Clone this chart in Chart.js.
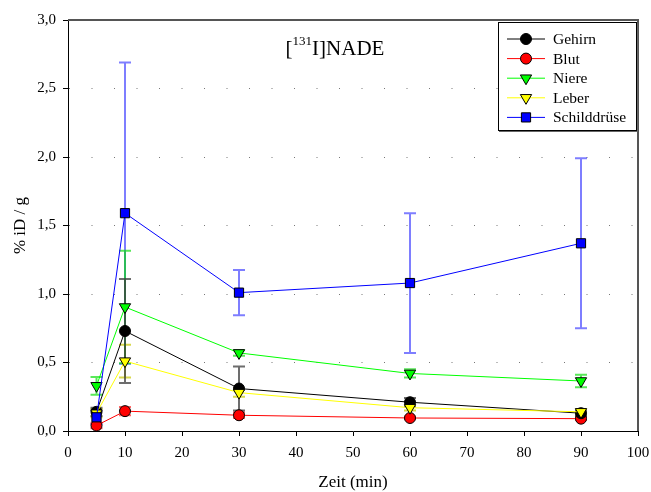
<!DOCTYPE html>
<html>
<head>
<meta charset="utf-8">
<script src="https://cdn.jsdelivr.net/npm/chart.js@4.4.0/dist/chart.umd.min.js"></script>
<style>
html, body { margin: 0; padding: 0; background: #fff; }
#wrap { width: 651px; height: 492px; }
</style>
</head>
<body>
<div id="wrap"><canvas id="chart"></canvas></div>
<script>
// Zeitpunkte (min)
const zeiten = [5, 10, 30, 60, 90];

// Mittelwerte % iD / g
const gehirn = [0.14, 0.73, 0.31, 0.21, 0.13];
const blut = [0.04, 0.145, 0.115, 0.095, 0.09];
const niere = [0.33, 0.905, 0.57, 0.42, 0.365];
const leber = [0.13, 0.51, 0.28, 0.17, 0.14];
const schilddruese = [0.10, 1.59, 1.01, 1.08, 1.37];

// Standardabweichungen
const gehirnFehler = [0.03, 0.38, 0.16, 0.03, 0.02];
const blutFehler = [0.02, 0.03, 0.02, 0.01, 0.01];
const niereFehler = [0.065, 0.41, 0.02, 0.03, 0.045];
const leberFehler = [0.03, 0.12, 0.03, 0.02, 0.02];
const schilddrueseFehler = [0.05, 1.10, 0.165, 0.51, 0.62];

const yTicks = [0, 0.5, 1.0, 1.5, 2.0, 2.5, 3.0];

const serif = '"Liberation Serif", "Times New Roman", serif';

function punkte(werte) {
    return werte.map((v, i) => ({ x: zeiten[i], y: v }));
}

const datensaetze = [
    { label: 'Gehirn', data: punkte(gehirn), fehler: gehirnFehler, borderColor: '#000000', backgroundColor: '#000000',
      fehlerFarbe: 'rgba(60,60,60,0.75)', pointStyle: 'circle', pointRadius: 5.5, pointRotation: 0, order: 3 },
    { label: 'Blut', data: punkte(blut), fehler: blutFehler, borderColor: '#ff0000', backgroundColor: '#ff0000',
      fehlerFarbe: 'rgba(255,0,0,0.6)', pointStyle: 'circle', pointRadius: 5.5, pointRotation: 0, order: 4 },
    { label: 'Niere', data: punkte(niere), fehler: niereFehler, borderColor: '#00ff00', backgroundColor: '#00ff00',
      fehlerFarbe: 'rgba(0,220,0,0.65)', pointStyle: 'triangle', pointRadius: 6.5, pointRotation: 180, order: 1 },
    { label: 'Leber', data: punkte(leber), fehler: leberFehler, borderColor: '#ffff00', backgroundColor: '#ffff00',
      fehlerFarbe: 'rgba(200,200,0,0.7)', pointStyle: 'triangle', pointRadius: 6.5, pointRotation: 180, order: 2 },
    { label: 'Schilddrüse', data: punkte(schilddruese), fehler: schilddrueseFehler, borderColor: '#0000ff', backgroundColor: '#0000ff',
      fehlerFarbe: 'rgba(40,40,255,0.6)', pointStyle: 'rect', pointRadius: 6.5, pointRotation: 0, order: 0 }
];

function marker(ctx, stil, x, y, r, farbe) {
    ctx.save();
    ctx.fillStyle = farbe;
    ctx.strokeStyle = '#000';
    ctx.lineWidth = 1;
    ctx.beginPath();
    if (stil === 'circle') {
        ctx.arc(x, y, r, 0, Math.PI * 2);
    } else if (stil === 'rect') {
        const s = r * Math.SQRT1_2;
        ctx.rect(x - s, y - s, 2 * s, 2 * s);
    } else {
        ctx.moveTo(x - r * 0.87, y - r * 0.5);
        ctx.lineTo(x + r * 0.87, y - r * 0.5);
        ctx.lineTo(x, y + r);
        ctx.closePath();
    }
    ctx.fill();
    ctx.stroke();
    ctx.restore();
}

const fehlerbalken = {
    id: 'fehlerbalken',
    beforeDatasetsDraw(chart) {
        const ctx = chart.ctx;
        const xs = chart.scales.x, ys = chart.scales.y;
        const reihen = chart.data.datasets.map((d, i) => i).reverse();
        ctx.save();
        reihen.forEach(i => {
            const d = chart.data.datasets[i];
            ctx.strokeStyle = d.fehlerFarbe;
            ctx.lineWidth = 2;
            d.data.forEach((p, j) => {
                const e = d.fehler[j];
                const px = xs.getPixelForValue(p.x);
                const oben = ys.getPixelForValue(p.y + e);
                const unten = ys.getPixelForValue(Math.max(p.y - e, -0.05));
                ctx.beginPath();
                ctx.moveTo(px, oben); ctx.lineTo(px, unten);
                ctx.moveTo(px - 6, oben); ctx.lineTo(px + 6, oben);
                if (p.y - e >= 0) { ctx.moveTo(px - 6, unten); ctx.lineTo(px + 6, unten); }
                ctx.stroke();
            });
        });
        ctx.restore();
    }
};

const beschriftung = {
    id: 'beschriftung',
    afterDraw(chart) {
        const ctx = chart.ctx;
        const a = chart.chartArea;
        ctx.save();

        // Rahmen oben und rechts
        ctx.strokeStyle = '#555';
        ctx.lineWidth = 2;
        ctx.beginPath();
        ctx.moveTo(a.left, a.top); ctx.lineTo(a.right, a.top); ctx.lineTo(a.right, a.bottom);
        ctx.stroke();

        // Titel [131I]NADE
        ctx.fillStyle = '#000';
        ctx.textBaseline = 'alphabetic';
        ctx.textAlign = 'left';
        ctx.font = '21px ' + serif;
        const w1 = ctx.measureText('[').width;
        const w3 = ctx.measureText('I]NADE').width;
        ctx.font = '13px ' + serif;
        const w2 = ctx.measureText('131').width;
        let x0 = 335 - (w1 + w2 + w3) / 2;
        ctx.font = '21px ' + serif;
        ctx.fillText('[', x0, 55);
        ctx.font = '13px ' + serif;
        ctx.fillText('131', x0 + w1, 45);
        ctx.font = '21px ' + serif;
        ctx.fillText('I]NADE', x0 + w1 + w2, 55);

        // Achsentitel
        ctx.font = '17px ' + serif;
        ctx.textAlign = 'center';
        ctx.fillText('Zeit (min)', (a.left + a.right) / 2, 487);
        ctx.save();
        ctx.translate(25, (a.top + a.bottom) / 2);
        ctx.rotate(-Math.PI / 2);
        ctx.fillText('% iD / g', 0, 0);
        ctx.restore();

        // Legende
        const lx = 498, ly = 22, lw = 138, lh = 108;
        ctx.fillStyle = '#fff';
        ctx.fillRect(lx, ly, lw, lh);
        ctx.strokeStyle = '#666';
        ctx.lineWidth = 2;
        ctx.beginPath();
        ctx.moveTo(lx + lw + 1, ly + 1); ctx.lineTo(lx + lw + 1, ly + lh + 1); ctx.lineTo(lx + 1, ly + lh + 1);
        ctx.stroke();
        ctx.strokeStyle = '#000';
        ctx.lineWidth = 1;
        ctx.strokeRect(lx + 0.5, ly + 0.5, lw, lh);
        ctx.font = '15.5px ' + serif;
        ctx.textAlign = 'left';
        ctx.textBaseline = 'middle';
        chart.data.datasets.forEach((d, i) => {
            const y = 39 + i * 19.6;
            ctx.strokeStyle = d.borderColor;
            ctx.lineWidth = 1;
            ctx.beginPath();
            ctx.moveTo(507, y); ctx.lineTo(545, y);
            ctx.stroke();
            marker(ctx, d.pointStyle, 526, y, d.pointRadius, d.backgroundColor);
            ctx.fillStyle = '#000';
            ctx.fillText(d.label, 553, y + 1);
        });
        ctx.restore();
    }
};

new Chart(document.getElementById('chart'), {
    type: 'line',
    data: { datasets: datensaetze },
    plugins: [fehlerbalken, beschriftung],
    options: {
        responsive: true,
        maintainAspectRatio: false,
        animation: false,
        layout: { padding: { top: 20, right: 13, left: 0, bottom: 0 } },
        elements: {
            line: { borderWidth: 1, tension: 0 },
            point: { borderColor: '#000', borderWidth: 1 }
        },
        datasets: { line: { pointBorderColor: '#000', pointBorderWidth: 1 } },
        plugins: { legend: { display: false }, tooltip: { enabled: false } },
        scales: {
            x: {
                type: 'linear',
                min: 0,
                max: 100,
                afterFit: s => { s.height = 61; s.paddingLeft = 0; s.paddingRight = 0; },
                ticks: { stepSize: 10, color: '#000', padding: 8, maxRotation: 0, font: { family: serif, size: 15 } },
                grid: { display: true, drawOnChartArea: false, drawTicks: true, tickLength: 5, color: '#000' },
                border: { display: true, color: '#000', width: 1 }
            },
            y: {
                type: 'linear',
                min: 0,
                max: 3,
                afterFit: s => { s.width = 68; },
                afterBuildTicks: s => { s.ticks = yTicks.map(v => ({ value: v })); },
                ticks: {
                    color: '#000', padding: 7,
                    font: { family: serif, size: 15 },
                    callback: v => v.toFixed(1).replace('.', ',')
                },
                grid: {
                    display: true, drawOnChartArea: true, drawTicks: true, tickLength: 5,
                    color: ctx => (ctx.tick && (ctx.tick.value === 0 || ctx.tick.value === 3)) ? 'rgba(0,0,0,0)' : '#777',
                    tickColor: '#000',
                    lineWidth: 1
                },
                border: { display: true, color: '#000', width: 1, dash: [1, 21.5] }
            }
        }
    }
});
</script>
</body>
</html>
